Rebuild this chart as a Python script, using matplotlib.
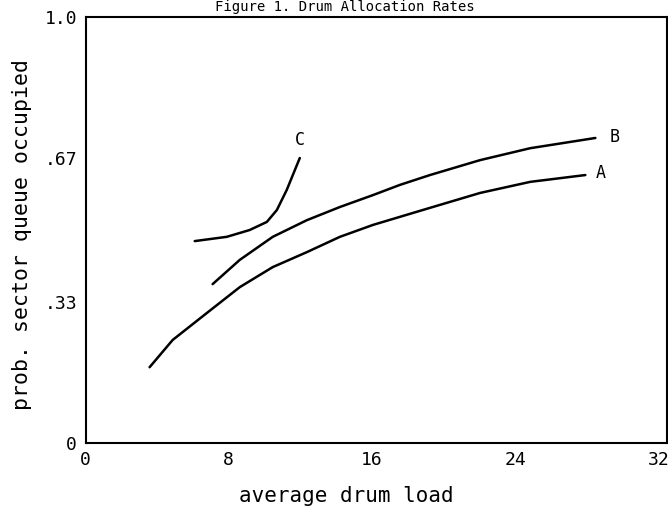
import numpy as np
import matplotlib.pyplot as plt

# curve values
a_x = [3.58, 4.87, 6.77, 8.62, 10.46, 12.36, 14.21, 16.06, 17.57, 19.24, 22.04, 24.84, 27.92]
a_y = [0.178, 0.242, 0.305, 0.366, 0.413, 0.448, 0.484, 0.512, 0.531, 0.552, 0.587, 0.613, 0.629]
b_x = [7.10, 8.62, 10.46, 12.36, 14.21, 16.06, 17.57, 19.24, 22.04, 24.84, 28.48]
b_y = [0.373, 0.430, 0.484, 0.523, 0.554, 0.582, 0.606, 0.629, 0.664, 0.692, 0.716]
c_x = [6.10, 7.89, 9.17, 10.13, 10.69, 11.24, 11.97]
c_y = [0.474, 0.484, 0.500, 0.519, 0.547, 0.594, 0.669]

plt.rcParams['font.family'] = ['DejaVu Sans Mono']

fig = plt.figure(figsize=(6.68, 5.14), dpi=100)
ax = fig.add_axes([0.128, 0.138, 0.871, 0.829])

ax.plot(a_x, a_y, color='black', linewidth=1.8, solid_capstyle='round', solid_joinstyle='round')
ax.plot(b_x, b_y, color='black', linewidth=1.8, solid_capstyle='round', solid_joinstyle='round')
ax.plot(c_x, c_y, color='black', linewidth=1.8, solid_capstyle='round', solid_joinstyle='round')

ax.text(28.5, 0.634, 'A', fontsize=12, va='center', ha='left')
ax.text(29.3, 0.718, 'B', fontsize=12, va='center', ha='left')
ax.text(11.97, 0.711, 'C', fontsize=12, va='center', ha='center')

ax.set_xlim(0, 32.5)
ax.set_ylim(0, 1.0)
ax.set_xticks([0, 8, 16, 24, 32])
ax.set_yticks([0, 0.33, 0.67, 1.0])
ax.set_yticklabels(['0', '.33', '.67', '1.0'])
ax.tick_params(length=0, labelsize=13, pad=6)
for s in ax.spines.values():
    s.set_linewidth(1.5)

ax.set_xlabel('average drum load', fontsize=15, labelpad=12, x=0.448)
ax.set_ylabel('prob. sector queue occupied', fontsize=15.5, labelpad=9, y=0.49)
fig.text(0.516, 1.0, 'Figure 1. Drum Allocation Rates', fontsize=10,
         ha='center', va='top')

plt.savefig('out.png')
